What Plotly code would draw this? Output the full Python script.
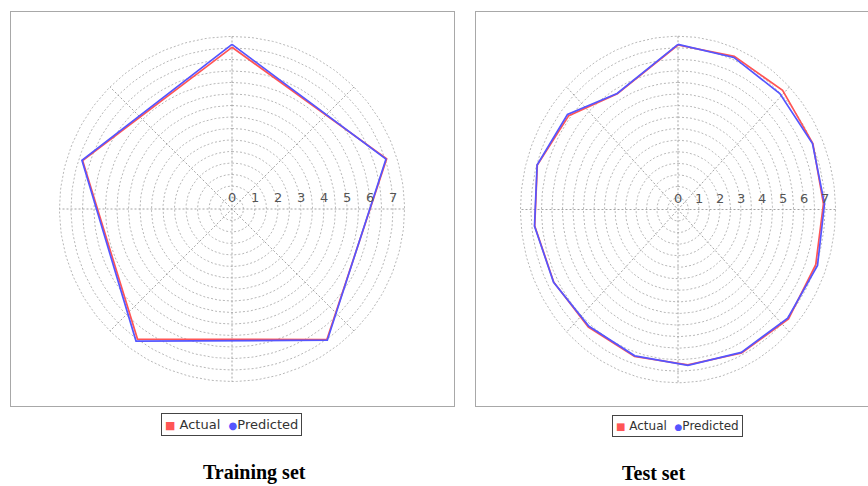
import numpy as np
import plotly.graph_objects as go

# ---- data -----------------------------------------------------------------
# Training set: five samples, angle in degrees measured clockwise from north
train_angles = [0, 72, 144, 216, 288]
train_actual = [7.03, 7.07, 7.02, 6.99, 6.83]
train_predicted = [7.16, 7.04, 7.05, 7.10, 6.86]

# Test set: sixteen samples, 22 degrees apart
test_angles = [0, 22, 44, 66, 88, 110, 132, 154, 176, 198, 220, 242, 264, 286, 308, 330]
test_actual = [7.12, 7.15, 7.17, 7.03, 6.93, 6.98, 7.08, 6.91, 6.74, 6.69,
               6.64, 6.70, 6.86, 6.97, 6.60, 5.78]
test_predicted = [7.15, 7.10, 6.98, 7.01, 6.98, 7.07, 7.03, 6.88, 6.76, 6.66,
                  6.60, 6.71, 6.87, 6.98, 6.68, 5.80]

radial_tick_labels = [0, 1, 2, 3, 4, 5, 6, 7]
grid_step = 0.5
radius_max = 7.5
series_names = ["Actual", "Predicted"]
panel_titles = ["Training set", "Test set"]

# ---- styling / layout -------------------------------------------------------
W, H = 868, 486
RED, BLUE = "#ff5555", "#5555ff"
CIRCLE_GRID = "#b8b8b8"
SPOKE_GRID = "#a4a4a4"
FRAME = "#a8a8a8"
SANS = "DejaVu Sans, Verdana, sans-serif"
SERIF = "Liberation Serif, Times New Roman, serif"

# pixel geometry of each panel: frame box, polar centre, pixels per unit
panels = [
    dict(angles=train_angles, actual=train_actual, predicted=train_predicted,
         frame=(11, 11.5, 454, 406), center=(232, 209), sx=23.0, sy=23.0,
         legend_at=(231.5, 424.7), legend_font=13, title_x=254),
    dict(angles=test_angles, actual=test_actual, predicted=test_predicted,
         frame=(476, 11.5, 868, 406), center=(678, 209.5), sx=21.0, sy=23.1,
         legend_at=(677.5, 425.5), legend_font=12, title_x=653),
]


def polar_to_xy(angles, radii, close=True):
    """Clockwise-from-north polar coordinates to cartesian x/y."""
    th = np.radians(np.asarray(angles, dtype=float))
    r = np.asarray(radii, dtype=float)
    x, y = r * np.sin(th), r * np.cos(th)
    if close:
        x, y = np.append(x, x[0]), np.append(y, y[0])
    return x, y


fig = go.Figure()
annotations = []

for i, p in enumerate(panels):
    xa = "x" if i == 0 else f"x{i + 1}"
    ya = "y" if i == 0 else f"y{i + 1}"
    xkey = "xaxis" if i == 0 else f"xaxis{i + 1}"
    ykey = "yaxis" if i == 0 else f"yaxis{i + 1}"

    # dashed concentric grid circles
    gx, gy = [], []
    t = np.linspace(0, 2 * np.pi, 241)
    for r in np.arange(grid_step, radius_max + 1e-9, grid_step):
        gx += list(r * np.sin(t)) + [None]
        gy += list(r * np.cos(t)) + [None]
    fig.add_trace(go.Scatter(x=gx, y=gy, mode="lines", xaxis=xa, yaxis=ya,
                             line=dict(color=CIRCLE_GRID, width=1, dash="2px,2px"),
                             hoverinfo="skip", showlegend=False))

    # dashed spokes every 45 degrees
    sxs, sys_ = [], []
    for a in range(0, 180, 45):
        x0, y0 = polar_to_xy([a, a + 180], [radius_max, radius_max], close=False)
        sxs += list(x0) + [None]
        sys_ += list(y0) + [None]
    fig.add_trace(go.Scatter(x=sxs, y=sys_, mode="lines", xaxis=xa, yaxis=ya,
                             line=dict(color=SPOKE_GRID, width=1, dash="2px,2px"),
                             hoverinfo="skip", showlegend=False))

    # actual and predicted series
    for name, vals, col in [(series_names[0], p["actual"], RED),
                            (series_names[1], p["predicted"], BLUE)]:
        x, y = polar_to_xy(p["angles"], vals)
        fig.add_trace(go.Scatter(x=x, y=y, mode="lines", name=name,
                                 xaxis=xa, yaxis=ya,
                                 line=dict(color=col, width=1.7),
                                 showlegend=False))

    # axes sized so that one radial unit maps to the panel's pixel scale
    fx0, fy0, fx1, fy1 = p["frame"]
    cx, cy = p["center"]
    xr = [-(cx - fx0) / p["sx"], (fx1 - cx) / p["sx"]]
    yr = [-(fy1 - cy) / p["sy"], (cy - fy0) / p["sy"]]
    common = dict(showgrid=False, zeroline=False, showticklabels=False,
                  ticks="", showline=True, mirror=True, linecolor=FRAME,
                  linewidth=1, fixedrange=True)
    fig.update_layout({
        xkey: dict(domain=[fx0 / W, min(fx1 / W, 1.0)], range=xr,
                   anchor=ya, **common),
        ykey: dict(domain=[1 - fy1 / H, 1 - fy0 / H], range=yr,
                   anchor=xa, **common),
    })

    # radial tick labels along the east spoke
    for v in radial_tick_labels:
        annotations.append(dict(x=v, y=0, xref=xa, yref=ya, text=str(v),
                                showarrow=False, xanchor="center",
                                yanchor="bottom", yshift=2,
                                font=dict(family=SANS, size=13, color="#555555")))

    # legend box under the panel
    lx, ly = p["legend_at"]
    fs = p["legend_font"]
    legend_text = (f'<span style="color:{RED};font-size:{fs - 2}px">■</span> '
                   f'{series_names[0]}  '
                   f'<span style="color:{BLUE};font-size:{fs - 3}px">●</span>'
                   f'{series_names[1]}')
    annotations.append(dict(x=lx / W, y=1 - ly / H, xref="paper", yref="paper",
                            text=legend_text, showarrow=False,
                            xanchor="center", yanchor="middle",
                            bordercolor="#444444", borderwidth=1, borderpad=3,
                            bgcolor="white",
                            font=dict(family=SANS, size=fs, color="#333333")))

    # caption, sitting on the bottom edge of the page
    annotations.append(dict(x=p["title_x"] / W, y=0, xref="paper", yref="paper",
                            text=f"<b>{panel_titles[i]}</b>", showarrow=False,
                            xanchor="center", yanchor="bottom",
                            font=dict(family=SERIF, size=20, color="black")))

fig.update_layout(width=W, height=H, margin=dict(l=0, r=0, t=0, b=0),
                  paper_bgcolor="white", plot_bgcolor="white",
                  showlegend=False, annotations=annotations)

fig.write_html("out.html")
